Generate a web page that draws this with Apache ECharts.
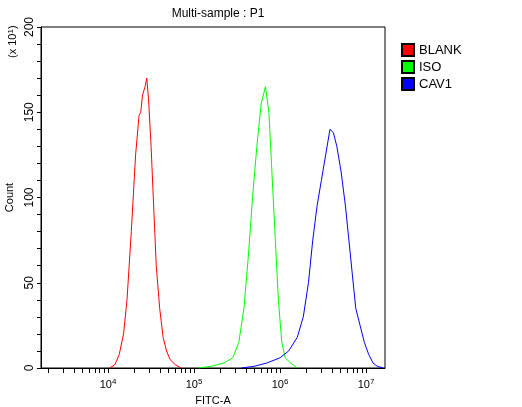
<!DOCTYPE html>
<html><head><meta charset="utf-8">
<script src="https://cdn.jsdelivr.net/npm/echarts@6/dist/echarts.min.js"></script>
<style>html,body{margin:0;padding:0;background:#fff}#c{width:522px;height:407px}</style>
</head><body><div id="c"></div>
<script>
// x values are log10(FITC-A)
const blankX = [4.02,4.08,4.13,4.18,4.22,4.27,4.32,4.36,4.38,4.40,4.43,4.45,4.47,4.50,4.53,4.56,4.60,4.64,4.68,4.72,4.78,4.85];
const blankY = [0,2,8,20,40,80,125,148,150,160,165,170,158,130,95,60,35,18,10,5,2,0];
const isoX = [5.05,5.2,5.35,5.45,5.52,5.58,5.63,5.68,5.73,5.78,5.83,5.87,5.90,5.94,5.98,6.02,6.06,6.12,6.2];
const isoY = [0,1,3,6,15,35,65,100,130,155,165,150,120,80,40,15,6,3,0];
const cavX = [5.55,5.7,5.85,6.0,6.1,6.2,6.27,6.33,6.38,6.43,6.48,6.53,6.58,6.62,6.66,6.71,6.76,6.80,6.84,6.88,6.93,6.98,7.03,7.08,7.13,7.2];
const cavY = [0,1,3,6,10,18,30,50,75,95,110,125,140,138,130,115,95,75,55,35,25,15,8,3,1,0];
const majorExp = [4,5,6,7];
const yTicks = [0,50,100,150,200];

const minorTicks = [];
for (let e = 3; e <= 7; e++) for (let k = 1; k <= 9; k++) {
  const v = e + Math.log10(k);
  if (v >= 3.22 && v <= 7.22) minorTicks.push(v);
}
const yMinor = [];
for (let v = 0; v <= 200; v += 10) yMinor.push(v);
const zip = (a, b) => a.map((x, i) => [x, b[i]]);
const F = 'Liberation Sans, Arial, sans-serif';
const mk = (name, col, x, y) => ({name, type:'line', data: zip(x,y), symbol:'none', smooth:false,
  lineStyle:{color:col,width:1}, itemStyle:{color:col, borderColor:'#000', borderWidth:1}, animation:false});

const chart = echarts.init(document.getElementById('c'));
chart.setOption({
  animation:false,
  title:{text:'Multi-sample : P1', left:213, top:3, textAlign:'center',
    textStyle:{fontFamily:F, fontSize:12, fontWeight:'normal', color:'#000'}},
  legend:{orient:'vertical', left:396, top:38, itemWidth:12, itemHeight:12, itemGap:3,
    icon:'rect', textStyle:{fontFamily:F, fontSize:13, color:'#000'}, data:['BLANK','ISO','CAV1']},
  grid:{left:41, right:137, top:27, bottom:39, show:true, borderColor:'#000', borderWidth:1, outerBoundsMode:'none', containLabel:false},
  xAxis:{type:'value', min:3.22, max:7.22, name:'FITC-A', nameLocation:'middle', nameGap:26,
    nameTextStyle:{fontFamily:F, fontSize:11, color:'#000'},
    axisLine:{lineStyle:{color:'#000'}}, splitLine:{show:false},
    axisTick:{customValues:minorTicks, length:5, lineStyle:{color:'#000'}},
    axisLabel:{customValues:majorExp, fontFamily:F, color:'#000', margin:10,
      formatter:v=>'{b|10}{s|'+v+'}', rich:{b:{fontSize:11,fontFamily:F,color:'#000'},s:{fontSize:8,fontFamily:F,color:'#000',verticalAlign:'top',padding:[0,0,6,0]}}}},
  yAxis:{type:'value', min:0, max:200, name:'Count', nameLocation:'middle', nameGap:26,
    nameTextStyle:{fontFamily:F, fontSize:11, color:'#000'},
    axisLine:{lineStyle:{color:'#000'}}, splitLine:{show:false},
    axisTick:{customValues:yMinor, length:4, lineStyle:{color:'#000'}},
    axisLabel:{customValues:yTicks, rotate:90, fontFamily:F, fontSize:12, color:'#000', margin:5}},
  graphic:[{type:'text', rotation:Math.PI/2, position:[7,58],
    style:{text:'(x 10{s|1})', fontFamily:F, fontSize:11, fill:'#000', rich:{s:{fontSize:8,verticalAlign:'top'}}}}],
  series:[mk('BLANK','#ff0000',blankX,blankY), mk('ISO','#00ff00',isoX,isoY), mk('CAV1','#0000ff',cavX,cavY)]
});
</script></body></html>
